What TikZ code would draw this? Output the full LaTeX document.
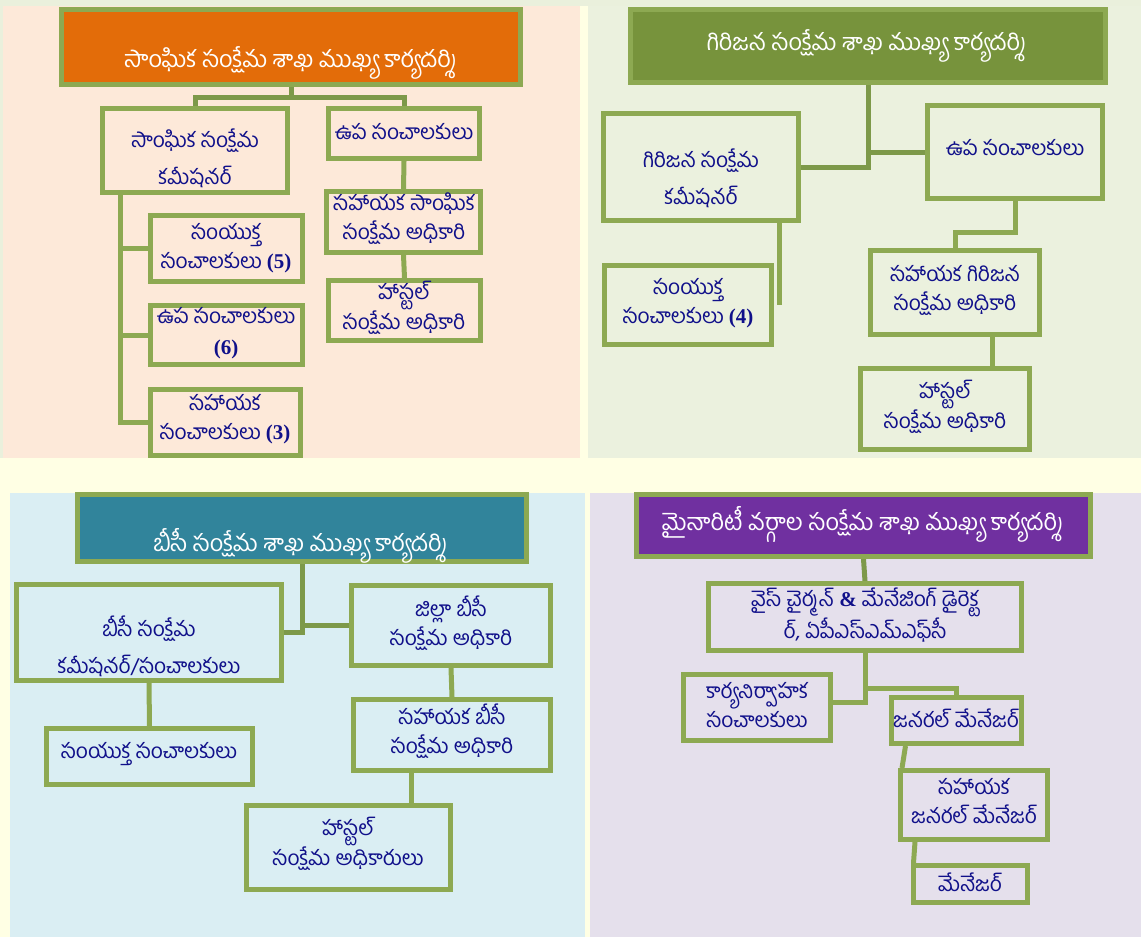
\documentclass[tikz,border=0pt]{standalone}
\usepackage{fontspec}
\newfontfamily\tel[Script=Telugu]{Hind Guntur}
\newfontfamily\srf{Liberation Serif}
\usetikzlibrary{fit,calc}
\definecolor{yel}{HTML}{FFFFE4}
\definecolor{pgr}{HTML}{EAF0DC}
\definecolor{pch}{HTML}{FDE9D9}
\definecolor{pgn}{HTML}{EBF1DE}
\definecolor{pbl}{HTML}{DAEEF3}
\definecolor{plv}{HTML}{E5E0EC}
\definecolor{org}{HTML}{E36C09}
\definecolor{olv}{HTML}{77933C}
\definecolor{tea}{HTML}{31849B}
\definecolor{pur}{HTML}{7030A0}
\definecolor{brd}{HTML}{8DA952}
\definecolor{cdk}{HTML}{7D9949}
\definecolor{navy}{HTML}{10108A}
\pgfdeclarelayer{bg}
\pgfdeclarelayer{cn}
\pgfsetlayers{bg,cn,main}
\newcommand\bx[6]{\node[#6, fit={(#2+2.5,#3+2.5) (#4-2.5,#5-2.5)}] (#1) {};}
\newcommand\num[1]{{\srf\bfseries #1}}
\tikzset{
  box/.style={draw=brd, line width=5pt, inner sep=0pt},
  hbox/.style={box, fill=#1},
  txt/.style={text=navy, font=\tel\fontsize{21}{29}\selectfont, align=center, inner sep=0pt},
  htxt/.style={text=white, font=\tel\fontsize{23.5}{29}\selectfont, align=center, inner sep=0pt},
  conn/.style={draw=brd, line width=5pt},
  connd/.style={draw=cdk, line width=5pt},
}
\begin{document}
\begin{tikzpicture}[x=1pt,y=-1pt]
\useasboundingbox (0,0) rectangle (1141,937);
\begin{pgfonlayer}{bg}
\fill[yel] (0,0) rectangle (1141,937);
\fill[pgr] (0,0) rectangle (1141,6);
\fill[pgr] (0,0) rectangle (3,458);
\fill[pch] (3,6) rectangle (580,458);
\fill[pgn] (588,6) rectangle (1141,458);
\fill[pbl] (10,493) rectangle (585,937);
\fill[plv] (590,493) rectangle (1141,937);
\end{pgfonlayer}

% ---------- top left ----------
\bx{tlh}{59}{7}{523}{87}{hbox=org}
\node[htxt] (tlh-t) at (290,63) {సాంఘిక సంక్షేమ శాఖ ముఖ్య కార్యదర్శి};
\bx{tlb1}{100}{106}{290}{195}{box}
\node[txt] (tlb1-t) at (195,158) {సాంఘిక సంక్షేమ\\[8pt]కమీషనర్};
\bx{tlb2}{326}{106}{482}{161}{box}
\node[txt] (tlb2-t) at (404,132) {ఉప సంచాలకులు};
\bx{tlr2}{324}{189}{483}{255}{box}
\node[txt] (tlr2-t) at (404,219) {సహాయక సాంఘిక\\సంక్షేమ అధికారి};
\bx{tlr3}{326}{278}{483}{343}{box}
\node[txt] (tlr3-t) at (404,308) {హాస్టల్\\సంక్షేమ అధికారి};
\bx{tlc1}{148}{213}{305}{284}{box}
\node[txt] (tlc1-t) at (226,248) {సంయుక్త\\సంచాలకులు \num{(5)}};
\bx{tlc2}{148}{303}{305}{367}{box}
\node[txt] (tlc2-t) at (226,333) {ఉప సంచాలకులు\\[2pt]\num{(6)}};
\bx{tlc3}{148}{387}{303}{458}{box}
\node[txt] (tlc3-t) at (225,419) {సహాయక\\సంచాలకులు \num{(3)}};
\begin{pgfonlayer}{cn}
\draw[connd] (tlh.south) -- ++(0,10) coordinate (tlj);
\draw[connd] (tlb1.north) |- (tlj) -| (tlb2.north);
\draw[conn] (tlb2.south) -- (tlr2.north);
\draw[conn] (tlr2.south) -- (tlr3.north);
\coordinate (tlk) at ([xshift=20pt]tlb1.south west);
\draw[conn] (tlk) |- (tlc1.west);
\draw[conn] (tlk) |- (tlc2.west);
\draw[conn] (tlk) |- (tlc3.west);
\end{pgfonlayer}

% ---------- top right ----------
\bx{trh}{628}{7}{1108}{85}{hbox=olv}
\node[htxt] (trh-t) at (866,46) {గిరిజన సంక్షేమ శాఖ ముఖ్య కార్యదర్శి};
\bx{trb1}{601}{111}{801}{223}{box}
\node[txt] (trb1-t) at (701,178) {గిరిజన సంక్షేమ\\[8pt]కమీషనర్};
\bx{trb2}{925}{103}{1105}{201}{box}
\node[txt] (trb2-t) at (1015,148) {ఉప సంచాలకులు};
\bx{trc1}{602}{263}{774}{347}{box}
\node[txt] (trc1-t) at (688,303) {సంయుక్త\\సంచాలకులు \num{(4)}};
\bx{trc2}{868}{248}{1042}{337}{box}
\node[txt] (trc2-t) at (955,290) {సహాయక గిరిజన\\సంక్షేమ అధికారి};
\bx{trd2}{858}{366}{1032}{452}{box}
\node[txt] (trd2-t) at (945,407) {హాస్టల్\\సంక్షేమ అధికారి};
\begin{pgfonlayer}{cn}
\draw[connd] (trh.south) |- (trb1.east);
\draw[connd] (trh.south |- trb2.west) -- (trb2.west);
\coordinate (trk) at ([xshift=5pt]trc1.east);
\draw[conn] (trb1.south -| trk) -- (trk);
\draw[conn] (trb2.south) -- ++(0,31) -| (trc2.north);
\coordinate (trm) at ([xshift=37pt]trc2.south);
\draw[conn] (trm) -- (trm |- trd2.north);
\end{pgfonlayer}

% ---------- bottom left ----------
\bx{blh}{75}{492}{529}{564}{hbox=tea}
\node[htxt] (blh-t) at (300,546) {బీసీ సంక్షేమ శాఖ ముఖ్య కార్యదర్శి};
\bx{blb1}{14}{582}{284}{683}{box}
\node[txt] (blb1-t) at (149,646) {బీసీ సంక్షేమ\\[8pt]కమీషనర్/సంచాలకులు};
\bx{blb2}{349}{583}{553}{668}{box}
\node[txt] (blb2-t) at (451,623) {జిల్లా బీసీ\\సంక్షేమ అధికారి};
\bx{blc1}{44}{726}{255}{787}{box}
\node[txt] (blc1-t) at (149,754) {సంయుక్త సంచాలకులు};
\bx{blc2}{351}{697}{553}{773}{box}
\node[txt] (blc2-t) at (452,731) {సహాయక బీసీ\\సంక్షేమ అధికారి};
\bx{bld2}{244}{803}{453}{892}{box}
\node[txt] (bld2-t) at (348,844) {హాస్టల్\\సంక్షేమ అధికారులు};
\begin{pgfonlayer}{cn}
\draw[connd] (blh.south) |- (blb1.east);
\draw[connd] (blh.south |- blb2.west) -- (blb2.west);
\draw[conn] (blb1.south) -- (blc1.north);
\draw[conn] (blb2.south) -- (blc2.north);
\coordinate (blm) at ([xshift=-41pt]blc2.south);
\draw[conn] (blm) -- (blm |- bld2.north);
\end{pgfonlayer}

% ---------- bottom right ----------
\bx{brh}{634}{492}{1093}{559}{hbox=pur}
\node[htxt] (brh-t) at (862,524) {మైనారిటీ వర్గాల సంక్షేమ శాఖ ముఖ్య కార్యదర్శి};
\bx{brb1}{706}{581}{1024}{653}{box}
\node[txt] (brb1-t) at (865,615) {వైస్ చైర్మన్ \num{\&} మేనేజింగ్ డైరెక్ట\\ర్, ఏపీఎస్ఎమ్ఎఫ్‌సీ};
\bx{brc1}{681}{672}{833}{743}{box}
\node[txt] (brc1-t) at (757,705) {కార్యనిర్వాహక\\సంచాలకులు};
\bx{brc2}{889}{695}{1024}{746}{box}
\node[txt] (brc2-t) at (956,718) {జనరల్ మేనేజర్};
\bx{brd2}{898}{768}{1050}{842}{box}
\node[txt] (brd2-t) at (974,801) {సహాయక\\జనరల్ మేనేజర్};
\bx{bre2}{911}{863}{1030}{905}{box}
\node[txt] (bre2-t) at (970,882) {మేనేజర్};
\begin{pgfonlayer}{cn}
\draw[connd] (brh.south) -- (brb1.north);
\draw[conn] (brb1.south) |- ([yshift=5pt]brc1.east);
\draw[conn] (brb1.south) ++(0,35) -| (brc2.north);
\draw[conn] ([xshift=-51pt]brc2.south) -- ([xshift=-72pt]brd2.north);
\draw[conn] ([xshift=-59pt]brd2.south) -- ([xshift=-57pt]bre2.north);
\end{pgfonlayer}
\end{tikzpicture}
\end{document}
